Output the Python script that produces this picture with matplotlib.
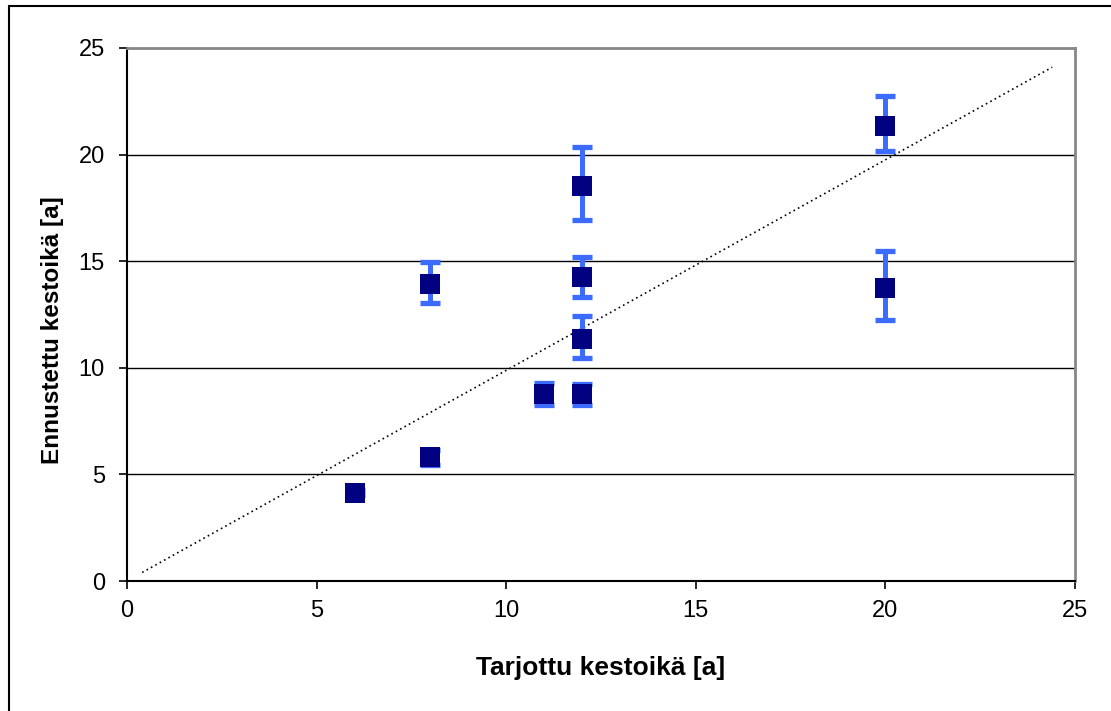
import matplotlib
matplotlib.use("Agg")
import matplotlib.pyplot as plt
from matplotlib.patches import Rectangle

plt.rcParams['font.family'] = ['Liberation Sans', 'DejaVu Sans']

# Data
offered = [6, 8, 8, 11, 12, 12, 12, 12, 20, 20]
predicted = [4.15, 5.8, 13.94, 8.75, 8.75, 11.37, 14.26, 18.53, 21.36, 13.73]
err_low = [0.12, 0.35, 0.91, 0.5, 0.5, 0.9, 0.96, 1.6, 1.19, 1.49]
err_high = [0.12, 0.35, 1.04, 0.54, 0.5, 1.07, 0.92, 1.84, 1.39, 1.75]
line_x = [0.4, 24.4]
line_y = [0.4, 24.1]
ticks = [0, 5, 10, 15, 20, 25]

W, H = 1111, 711
fig = plt.figure(figsize=(W / 100, H / 100), dpi=100)
ax = fig.add_axes([127 / W, 1 - 581 / H, (1075 - 127) / W, (581 - 48) / H])

# outer border (left and top visible)
fig.patches.append(Rectangle((8.5 / W, -0.05), 1.2, 1 - 5.5 / H + 0.05,
                             transform=fig.transFigure, fill=False,
                             edgecolor='black', linewidth=1.5))

ax.set_xlim(0, 25)
ax.set_ylim(0, 25)
ax.set_xticks(ticks)
ax.set_yticks(ticks)
ax.yaxis.grid(True, color='black', linewidth=1.0)
ax.set_axisbelow(True)

ax.plot(line_x, line_y, linestyle=(0, (1, 2)), color='black', linewidth=1.2, zorder=2)

ax.errorbar(offered, predicted, yerr=[err_low, err_high], fmt='none',
            ecolor='#3b6cff', elinewidth=3.6, capsize=7, capthick=3.8, zorder=3)
ax.plot(offered, predicted, linestyle='none', marker='s', markersize=14.5,
        color='#000080', markeredgewidth=0, zorder=4)

for s in ['left', 'bottom']:
    ax.spines[s].set_color('black')
    ax.spines[s].set_linewidth(1.5)
for s in ['top', 'right']:
    ax.spines[s].set_color('#888888')
    ax.spines[s].set_linewidth(2)

ax.tick_params(axis='both', direction='out', length=6, width=1.2, labelsize=17, colors='black')
ax.tick_params(axis='y', pad=10)
ax.tick_params(axis='x', pad=8)

ax.set_xlabel('Tarjottu kestoikä [a]', fontsize=19, fontweight='bold', labelpad=24)
ax.set_ylabel('Ennustettu kestoikä [a]', fontsize=17.5, fontweight='bold')
ax.yaxis.set_label_coords(-0.066, 0.47)

fig.savefig('out.png', dpi=100, facecolor='white')
